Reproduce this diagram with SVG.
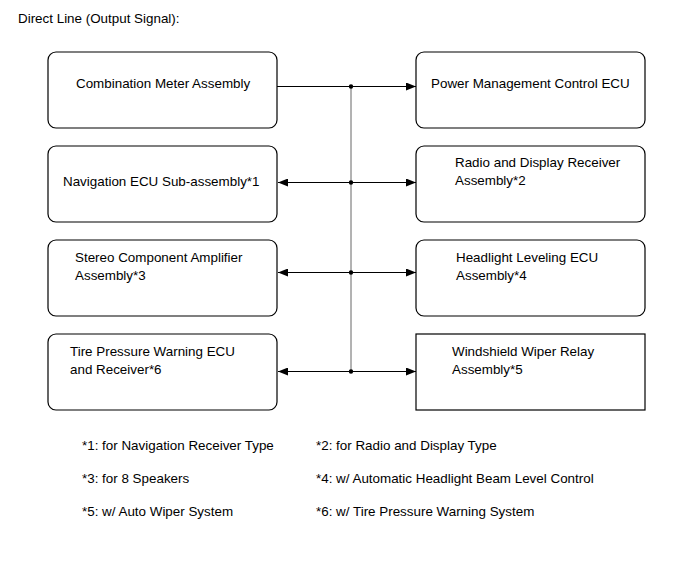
<svg xmlns="http://www.w3.org/2000/svg" width="690" height="562" viewBox="0 0 690 562">
<defs>
<style>
text{font-family:"Liberation Sans",Arial,sans-serif;font-size:13.4px;fill:#000}
.box{fill:#fff;stroke:#000;stroke-width:1.2}
.ln{stroke:#000;stroke-width:1;fill:none}
.vl{stroke:#666;stroke-width:1;fill:none}
</style>
<marker id="ah" viewBox="0 0 10 8" refX="10" refY="4" markerWidth="10" markerHeight="8" markerUnits="userSpaceOnUse" orient="auto-start-reverse">
<path d="M0,0L10,4L0,8z" fill="#000"/>
</marker>
</defs>
<rect width="690" height="562" fill="#fff"/>
<text x="18" y="23">Direct Line (Output Signal):</text>

<g id="combination-meter"><rect class="box" x="48" y="52" width="229" height="76" rx="8"/><text x="76" y="88">Combination Meter Assembly</text></g>
<g id="power-management"><rect class="box" x="416" y="52" width="229" height="76" rx="8"/><text x="431" y="88">Power Management Control ECU</text></g>
<g id="navigation-ecu"><rect class="box" x="48" y="146" width="229" height="76" rx="8"/><text x="63" y="186">Navigation ECU Sub-assembly*1</text></g>
<g id="radio-display"><rect class="box" x="416" y="146" width="229" height="76" rx="8"/><text x="455" y="167">Radio and Display Receiver</text><text x="455" y="185">Assembly*2</text></g>
<g id="stereo-amp"><rect class="box" x="48" y="240" width="229" height="76" rx="8"/><text x="75" y="262">Stereo Component Amplifier</text><text x="75" y="280">Assembly*3</text></g>
<g id="headlight-leveling"><rect class="box" x="416" y="240" width="229" height="76" rx="8"/><text x="456" y="262">Headlight Leveling ECU</text><text x="456" y="280">Assembly*4</text></g>
<g id="tire-pressure"><rect class="box" x="48" y="334" width="229" height="76" rx="8"/><text x="70" y="356">Tire Pressure Warning ECU</text><text x="70" y="374">and Receiver*6</text></g>
<g id="wiper-relay"><rect class="box" x="416" y="334" width="229" height="76"/><text x="452" y="356">Windshield Wiper Relay</text><text x="452" y="374">Assembly*5</text></g>

<g id="connectors">
<line class="vl" x1="351" y1="87" x2="351" y2="372"/>
<line class="ln" x1="277" y1="86.5" x2="416" y2="86.5" marker-end="url(#ah)"/>
<line class="ln" x1="278" y1="182.5" x2="416" y2="182.5" marker-start="url(#ah)" marker-end="url(#ah)"/>
<line class="ln" x1="278" y1="272.5" x2="416" y2="272.5" marker-start="url(#ah)" marker-end="url(#ah)"/>
<line class="ln" x1="278" y1="371.5" x2="416" y2="371.5" marker-start="url(#ah)" marker-end="url(#ah)"/>
<circle cx="351" cy="86.5" r="2.2" fill="#000"/>
<circle cx="351" cy="182.5" r="2.2" fill="#000"/>
<circle cx="351" cy="272.5" r="2.2" fill="#000"/>
<circle cx="351" cy="371.5" r="2.2" fill="#000"/>
</g>

<g id="notes">
<text x="82" y="450">*1: for Navigation Receiver Type</text>
<text x="316" y="450">*2: for Radio and Display Type</text>
<text x="82" y="483">*3: for 8 Speakers</text>
<text x="316" y="483">*4: w/ Automatic Headlight Beam Level Control</text>
<text x="82" y="516">*5: w/ Auto Wiper System</text>
<text x="316" y="516">*6: w/ Tire Pressure Warning System</text>
</g>
</svg>
